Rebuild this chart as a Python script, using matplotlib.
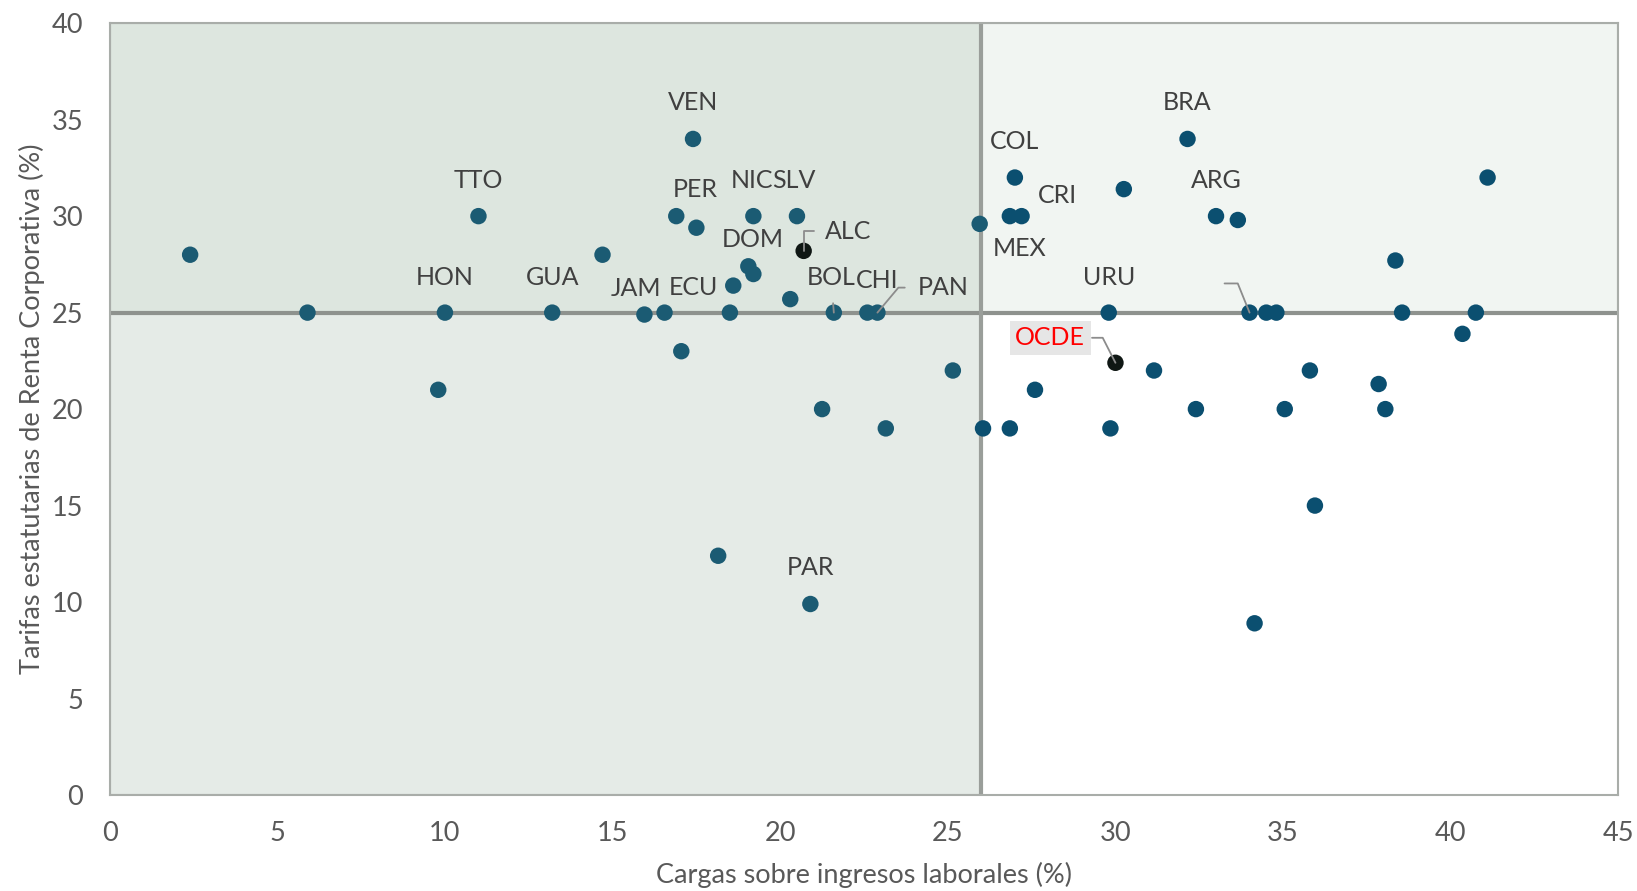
#!/usr/bin/python3

import matplotlib
matplotlib.use('Agg')
import matplotlib.pyplot as plt
from matplotlib.patches import Rectangle

plt.rcParams['font.family'] = ['Lato', 'DejaVu Sans']

# data
names = ['', '', 'TTO', 'HON', '', 'GUA', '', 'JAM', 'ECU', '', 'VEN', 'PER', '', '',
         '', 'DOM', '', 'NIC', 'SLV', '', 'ALC', 'BOL', 'CHI', 'PAN', '', 'PAR', '', '',
         '', '', '', 'COL', 'MEX', 'CRI', '', '', 'URU', '', 'OCDE', '', '', 'BRA', '',
         'ARG', '', '-', '', '', '', '', '', '', '', '', '', '', '', '', '']
x = [2.4, 5.9, 11.0, 10.0, 9.8, 13.2, 14.7, 15.95, 16.55, 17.05, 17.4, 16.9, 17.5, 18.5,
     18.6, 19.05, 19.2, 19.2, 20.5, 20.3, 20.7, 21.6, 22.6, 22.9, 18.15, 20.9, 21.25, 23.15,
     25.15, 25.95, 26.05, 27.0, 26.85, 27.2, 26.85, 27.6, 29.8, 29.85, 30.0, 30.25, 31.15, 32.15, 32.4,
     33.0, 33.65, 34.0, 34.5, 34.8, 34.15, 35.05, 35.8, 35.95, 37.85, 38.05, 38.35, 38.55,
     40.35, 40.75, 41.1]
y = [28, 25, 30, 25, 21, 25, 28, 24.9, 25, 23, 34, 30, 29.4, 25,
     26.4, 27.4, 27, 30, 30, 25.7, 28.2, 25, 25, 25, 12.4, 9.9, 20, 19,
     22, 29.6, 19, 32, 30, 30, 19, 21, 25, 19, 22.4, 31.4, 22, 34, 20,
     30, 29.8, 25, 25, 25, 8.9, 20, 22, 15, 21.3, 20, 27.7, 25,
     23.9, 25, 32]

# label offsets in points (dx, dy) and leader line styles
offsets = {'VEN': (0, 26), 'TTO': (0, 26), 'HON': (0, 25), 'GUA': (0, 25),
           'JAM': (-6, 19), 'ECU': (21, 18), 'PER': (14, 19), 'NIC': (-1, 26),
           'SLV': (-2, 26), 'DOM': (3, 19), 'ALC': (32, 14), 'BOL': (-2, 25),
           'CHI': (7, 23), 'PAN': (47, 18), 'COL': (0, 26), 'CRI': (26, 15),
           'MEX': (7, -23), 'URU': (0, 25), 'BRA': (0, 26), 'ARG': (0, 26),
           'OCDE': (-47, 18), 'PAR': (0, 26), '-': (-18, 21)}
leaders = {'ALC': ('angle,angleA=0,angleB=90,rad=0', 6),
           'PAN': ('angle,angleA=0,angleB=50,rad=0', 7),
           'OCDE': ('angle,angleA=0,angleB=117,rad=0', 1),
           '-': ('angle,angleA=0,angleB=112,rad=0', 0),
           'BOL': ('arc3,rad=0', 8)}

xcut = 26
ycut = 25

fig = plt.figure(figsize=(16.37, 8.91), dpi=100)
ax = fig.add_axes([0.067, 0.1077, 0.9216, 0.8663])
ax.set_xlim(0, 45)
ax.set_ylim(0, 40)

edge = '#a9ada9'
ax.add_patch(Rectangle((0, ycut), xcut, 40 - ycut, facecolor='#dde6df', edgecolor=edge, lw=1.5, zorder=0))
ax.add_patch(Rectangle((0, 0), xcut, ycut, facecolor='#e5ebe7', edgecolor=edge, lw=1.5, zorder=0))
ax.add_patch(Rectangle((xcut, ycut), 45 - xcut, 40 - ycut, facecolor='#f1f5f2', edgecolor=edge, lw=1.5, zorder=0))
ax.axhline(ycut, color='#8e928e', lw=3, zorder=1)
ax.axvline(xcut, color='#9a9e9a', lw=3, zorder=1)

cols = []
for n, xi in zip(names, x):
	if n in ('ALC', 'OCDE'):
		cols.append('#0f1714')
	elif xi < xcut:
		cols.append('#1b5b73')
	else:
		cols.append('#0b4f70')
ax.scatter(x, y, s=140, c=cols, zorder=3, linewidths=0)

for n, xi, yi in zip(names, x, y):
	if n == '':
		continue
	dx, dy = offsets[n]
	txt = '' if n == '-' else n
	kw = dict(fontsize=18, color='#404040', ha='center', va='center', zorder=4)
	if n == 'OCDE':
		kw['color'] = '#ff0000'
		kw['bbox'] = dict(facecolor='#e6e6e6', edgecolor='none', pad=4)
	if n in leaders:
		style, shr = leaders[n]
		kw['arrowprops'] = dict(arrowstyle='-', color='#8c8c8c', lw=1.3,
								connectionstyle=style, shrinkA=shr, shrinkB=0)
	ax.annotate(txt, (xi, yi), xytext=(dx, dy), textcoords='offset points', **kw)

ax.set_xticks(range(0, 46, 5))
ax.set_yticks(range(0, 41, 5))
ax.tick_params(length=0, labelsize=19.5, labelcolor='#595959', pad=19)
for s in ax.spines.values():
	s.set_color(edge)
	s.set_linewidth(1.5)
ax.set_xlabel('Cargas sobre ingresos laborales (%)', fontsize=19.5, color='#595959', labelpad=11)
ax.set_ylabel('Tarifas estatutarias de Renta Corporativa (%)', fontsize=19.5, color='#595959', labelpad=5)

fig.savefig('out.png', dpi=100)
